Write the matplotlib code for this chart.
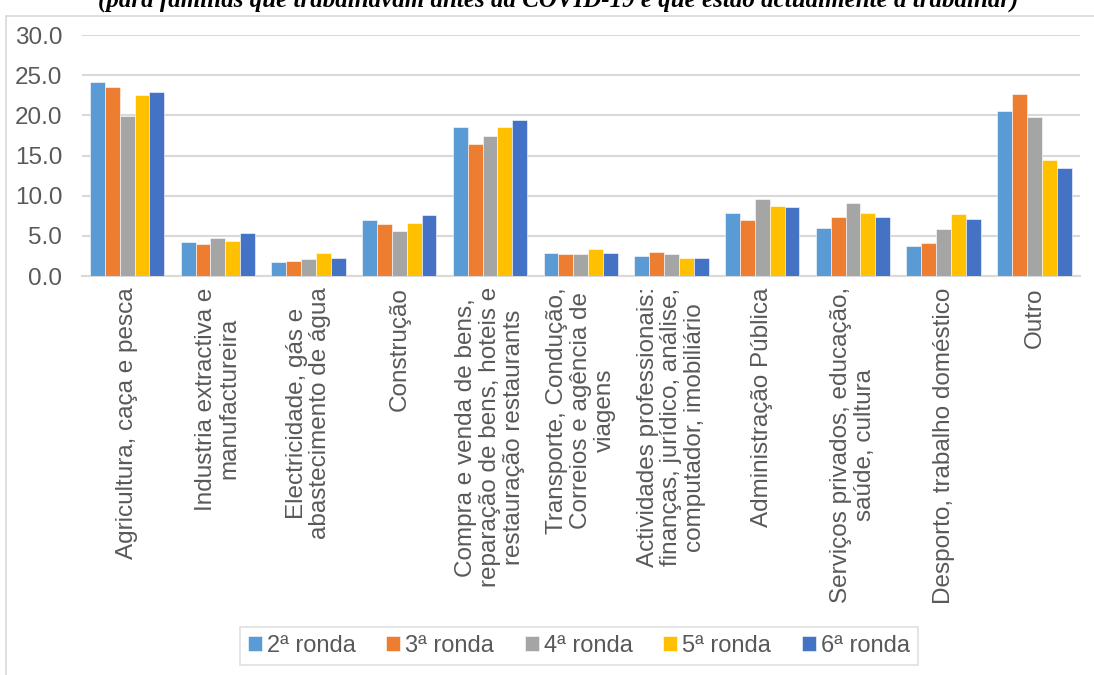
import numpy as np
import matplotlib
matplotlib.use("Agg")
import matplotlib.pyplot as plt
from matplotlib.lines import Line2D

plt.rcParams['font.family'] = ['Liberation Sans', 'DejaVu Sans']

# categories (x axis)
categories = [
    "Agricultura, caça e pesca",
    "Industria extractiva e\nmanufactureira",
    "Electricidade, gás e\nabastecimento de água",
    "Construção",
    "Compra e venda de bens,\nreparação de bens, hoteis e\nrestauração restaurants",
    "Transporte, Condução,\nCorreios e agência de\nviagens",
    "Actividades professionais:\nfinanças, jurídico, análise,\ncomputador, imobiliário",
    "Administração Pública",
    "Serviços privados, educação,\nsaúde, cultura",
    "Desporto, trabalho doméstico",
    "Outro",
]

series_names = ["2ª ronda", "3ª ronda", "4ª ronda", "5ª ronda", "6ª ronda"]

ronda2 = [24.2, 4.3, 1.7, 7.0, 18.6, 2.9, 2.5, 7.9, 6.0, 3.8, 20.5]
ronda3 = [23.5, 4.0, 1.9, 6.5, 16.4, 2.8, 3.0, 7.0, 7.4, 4.1, 22.7]
ronda4 = [19.9, 4.8, 2.1, 5.6, 17.4, 2.7, 2.8, 9.6, 9.1, 5.8, 19.8]
ronda5 = [22.5, 4.4, 2.9, 6.6, 18.6, 3.4, 2.3, 8.7, 7.9, 7.7, 14.4]
ronda6 = [22.9, 5.4, 2.3, 7.6, 19.4, 2.9, 2.3, 8.6, 7.4, 7.1, 13.5]

yticks = [0, 5, 10, 15, 20, 25, 30]

colors = ["#5B9BD5", "#ED7D31", "#A5A5A5", "#FFC000", "#4472C4"]
data = [ronda2, ronda3, ronda4, ronda5, ronda6]

fig = plt.figure(figsize=(10.94, 6.75), dpi=100)
# plot area: x 82..1080 px, y 35..276 px
ax = fig.add_axes([0.0747, 0.591, 0.9123, 0.357])

x = np.arange(len(categories))
w = 0.164
for i, (vals, c) in enumerate(zip(data, colors)):
    ax.bar(x + (i - 2) * w, vals, width=w, color=c, edgecolor="white",
           linewidth=0.4, zorder=3, label=series_names[i])

ax.set_xlim(-0.5, len(categories) - 0.5)
ax.set_ylim(0, 30)
ax.set_yticks(yticks)
ax.set_yticklabels([f"{v:.1f}" for v in yticks])
ax.yaxis.grid(True, color="#D9D9D9", linewidth=1.5, zorder=0)
ax.set_axisbelow(True)
for s in ["top", "right", "left"]:
    ax.spines[s].set_visible(False)
ax.spines["bottom"].set_color("#D9D9D9")
ax.spines["bottom"].set_linewidth(1.5)

ax.set_xticks(x)
ax.set_xticklabels(categories, rotation=90, ha="center", va="top",
                   multialignment="center", linespacing=1.1)
ax.tick_params(axis="both", length=0, labelsize=17.5, colors="#595959")
ax.tick_params(axis="x", pad=8)
ax.tick_params(axis="y", pad=14)

# chart frame (partly cut in the original)
fig.add_artist(Line2D([0.0055, 0.0055], [0, 0.976], transform=fig.transFigure,
                      color="#D9D9D9", linewidth=1.2))
fig.add_artist(Line2D([0.0055, 1.0], [0.976, 0.976], transform=fig.transFigure,
                      color="#D9D9D9", linewidth=1.2))

fig.text(0.51, (675 - 7) / 675,
         "(para famílias que trabalhavam antes da COVID-19 e que estão actualmente a trabalhar)",
         ha="center", va="baseline", fontsize=18, fontstyle="italic",
         fontweight="bold", family="Liberation Serif", color="#000000")

leg = ax.legend(loc="center", bbox_to_anchor=(0.529, 0.043),
                bbox_transform=fig.transFigure, ncol=5, frameon=True,
                fontsize=17, handlelength=0.6, handleheight=0.6,
                handletextpad=0.2, columnspacing=1.3, borderpad=0.35,
                fancybox=False)
leg.get_frame().set_edgecolor("#D9D9D9")
leg.get_frame().set_linewidth(1.2)
for t in leg.get_texts():
    t.set_color("#595959")

fig.savefig("out.png", dpi=100)
